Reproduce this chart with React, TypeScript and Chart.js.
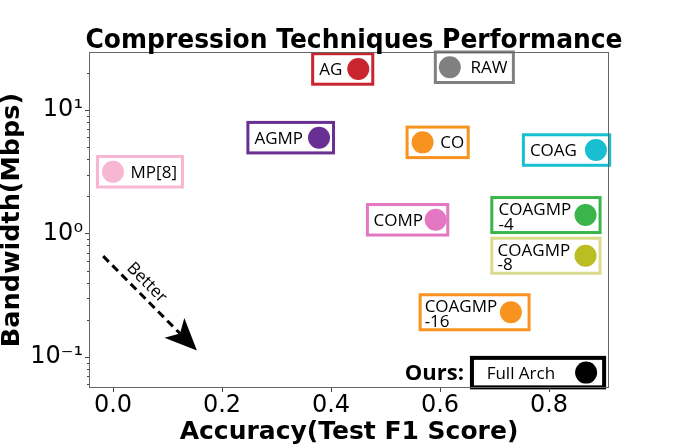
import { useEffect, useRef } from "react";
import { Chart, registerables } from "chart.js";
Chart.register(...registerables);

// ---------- data ----------
const techniques = ["AG", "RAW", "AGMP", "CO", "COAG", "MP[8]", "COMP", "COAGMP-4", "COAGMP-8", "COAGMP-16", "Full Arch"];
const labelLines = [["AG"], ["RAW"], ["AGMP"], ["CO"], ["COAG"], ["MP[8]"], ["COMP"], ["COAGMP", "-4"], ["COAGMP", "-8"], ["COAGMP", "-16"], ["Full Arch"]];
const accuracy = [0.45, 0.618, 0.378, 0.568, 0.886, 0.0, 0.592, 0.867, 0.867, 0.73, 0.868];
const bandwidth = [21.5, 22.2, 5.97, 5.47, 4.74, 3.16, 1.29, 1.41, 0.66, 0.23, 0.0746];
const markerColors = ["#c9252f", "#808080", "#6a2f93", "#f7931e", "#17bfd0", "#f7b6d2", "#e377c2", "#39b54a", "#bcbd22", "#f7931e", "#000000"];
const boxColors = ["#c9252f", "#808080", "#6a2f93", "#f7931e", "#17bfd0", "#f7b6d2", "#e377c2", "#39b54a", "#dbdb8d", "#f7931e", "#000000"];
const labelSide = ["left", "right", "left", "right", "left", "right", "left", "left", "left", "left", "left"];
const oursIndex = 10;
const oursText = "Ours:";

const xTickValues = [0, 0.2, 0.4, 0.6, 0.8];
const xTickLabels = ["0.0", "0.2", "0.4", "0.6", "0.8"];
const yTickValues = [0.1, 1, 10];
const yTickLabels = ["10\u207B\u00B9", "10\u2070", "10\u00B9"];

const titleText = "Compression Techniques Performance";
const xTitle = "Accuracy(Test F1 Score)";
const yTitle = "Bandwidth(Mbps)";

const arrowStart = { x: -0.018, y: 0.655 };
const arrowEnd = { x: 0.154, y: 0.1125 };
const arrowText = "Better";
const arrowTextPos = { x: 0.0618, y: 0.399 };

// ---------- style ----------
const W = 677;
const H = 448;
const R = 11;
const LABEL_FONT = '17px "Open Sans"';
// padText: box edge to text, gap: text to marker, padCircle: marker to box edge
const labelStyles = [
  { padText: 8, gap: 5, padCircle: 5, lw: 3 },
  { padText: 7.4, gap: 9.7, padCircle: 5, lw: 3 },
  { padText: 8, gap: 5, padCircle: 5, lw: 3 },
  { padText: 5.5, gap: 6.7, padCircle: 6, lw: 3 },
  { padText: 8, gap: 8, padCircle: 4.3, lw: 3 },
  { padText: 7, gap: 6.6, padCircle: 6, lw: 3 },
  { padText: 7.6, gap: 1.7, padCircle: 2.6, lw: 3 },
  { padText: 8.3, gap: 3.4, padCircle: 5, lw: 3 },
  { padText: 7.3, gap: 4.4, padCircle: 5, lw: 3 },
  { padText: 6, gap: 2.7, padCircle: 8.7, lw: 3 },
  { padText: 16.7, gap: 20, padCircle: 9, lw: 4 },
];

const frameAndTicks = {
  id: "frameAndTicks",
  afterDraw(chart: any) {
    const { ctx, chartArea: a, scales } = chart;
    ctx.save();
    ctx.strokeStyle = "#666";
    ctx.lineWidth = 1;
    ctx.strokeRect(a.left + 0.5, a.top + 0.5, a.right - a.left - 1, a.bottom - a.top - 1);
    ctx.strokeStyle = "#444";
    ctx.beginPath();
    xTickValues.forEach((v) => {
      const px = Math.round(scales.x.getPixelForValue(v)) + 0.5;
      ctx.moveTo(px, a.bottom);
      ctx.lineTo(px, a.bottom + 4);
    });
    const ymin = scales.y.min, ymax = scales.y.max;
    for (let e = -3; e <= 3; e++) {
      for (let m = 1; m <= 9; m++) {
        const v = m * Math.pow(10, e);
        if (v < ymin || v > ymax) continue;
        const py = Math.round(scales.y.getPixelForValue(v)) + 0.5;
        const len = m === 1 ? 4 : 2;
        ctx.moveTo(a.left - len, py);
        ctx.lineTo(a.left, py);
      }
    }
    ctx.stroke();
    ctx.restore();
  },
};

const titlePlugin = {
  id: "customTitle",
  afterDraw(chart: any) {
    const { ctx } = chart;
    ctx.save();
    ctx.font = 'bold 25px "DejaVu Sans"';
    ctx.fillStyle = "#000";
    ctx.textAlign = "center";
    ctx.textBaseline = "alphabetic";
    ctx.translate(354, 48);
    ctx.scale(1, 1.08);
    ctx.fillText(titleText, 0, 0);
    ctx.restore();
  },
};

const labelPlugin = {
  id: "pointLabels",
  beforeDatasetsDraw(chart: any) {
    const { ctx } = chart;
    const meta = chart.getDatasetMeta(0);
    ctx.save();
    meta.data.forEach((el: any, i: number) => {
      const cx = el.x;
      const cy = el.y;
      const st = labelStyles[i];
      const lines = labelLines[i];
      ctx.font = LABEL_FONT;
      const w = Math.max(...lines.map((l) => ctx.measureText(l).width));
      let left: number, right: number, textX: number;
      if (labelSide[i] === "left") {
        right = cx + R + st.padCircle;
        textX = cx - R - st.gap - w;
        left = textX - st.padText;
      } else {
        left = cx - R - st.padCircle;
        textX = cx + R + st.gap;
        right = textX + w + st.padText;
      }
      const h = lines.length > 1 ? 38 : 33.5;
      const top = cy - h / 2;
      const lw = st.lw;
      ctx.fillStyle = "#fff";
      ctx.fillRect(left, top, right - left, h);
      ctx.strokeStyle = boxColors[i];
      ctx.lineWidth = lw;
      ctx.strokeRect(left + lw / 2, top + lw / 2, right - left - lw, h - lw);
      ctx.fillStyle = "#000";
      ctx.textAlign = "left";
      ctx.textBaseline = "alphabetic";
      if (lines.length === 1) {
        ctx.fillText(lines[0], textX, cy + 6);
      } else {
        lines.forEach((l, k) => ctx.fillText(l, textX, cy + k * 14.5));
      }
      if (i === oursIndex) {
        ctx.font = 'bold 22px "Open Sans"';
        ctx.textAlign = "right";
        ctx.fillText(oursText, left - 6, cy + 7);
      }
    });
    ctx.restore();
  },
};

const arrowPlugin = {
  id: "betterArrow",
  afterDraw(chart: any) {
    const { ctx, scales } = chart;
    const x0 = scales.x.getPixelForValue(arrowStart.x);
    const y0 = scales.y.getPixelForValue(arrowStart.y);
    const x1 = scales.x.getPixelForValue(arrowEnd.x);
    const y1 = scales.y.getPixelForValue(arrowEnd.y);
    const dx = x1 - x0, dy = y1 - y0;
    const len = Math.hypot(dx, dy);
    const ux = dx / len, uy = dy / len;
    const nx = -uy, ny = ux;
    const headL = 32, headW = 14, notch = 24;
    const bx = x1 - ux * headL, by = y1 - uy * headL;
    const kx = x1 - ux * notch, ky = y1 - uy * notch;
    ctx.save();
    ctx.strokeStyle = "#000";
    ctx.lineWidth = 3;
    ctx.setLineDash([8, 5]);
    ctx.beginPath();
    ctx.moveTo(x0, y0);
    ctx.lineTo(kx, ky);
    ctx.stroke();
    ctx.setLineDash([]);
    ctx.fillStyle = "#000";
    ctx.beginPath();
    ctx.moveTo(x1, y1);
    ctx.lineTo(bx + nx * headW, by + ny * headW);
    ctx.lineTo(kx, ky);
    ctx.lineTo(bx - nx * headW, by - ny * headW);
    ctx.closePath();
    ctx.fill();
    const tx = scales.x.getPixelForValue(arrowTextPos.x);
    const ty = scales.y.getPixelForValue(arrowTextPos.y);
    ctx.translate(tx, ty);
    ctx.rotate(Math.atan2(dy, dx));
    ctx.font = '17px "Open Sans"';
    ctx.textAlign = "center";
    ctx.textBaseline = "middle";
    ctx.fillText(arrowText, 0, 0);
    ctx.restore();
  },
};

export default function App() {
  const ref = useRef<HTMLCanvasElement | null>(null);
  useEffect(() => {
    if (!ref.current) return;
    const chart = new Chart(ref.current, {
      type: "scatter",
      data: {
        labels: techniques,
        datasets: [
          {
            label: "techniques",
            data: accuracy.map((x, i) => ({ x, y: bandwidth[i] })),
            pointBackgroundColor: markerColors,
            pointBorderWidth: 0,
            pointRadius: R,
            pointHoverRadius: R,
          },
        ],
      },
      options: {
        responsive: false,
        animation: false,
        devicePixelRatio: 1,
        layout: { padding: { top: 52, right: 68, left: 0, bottom: 0 } },
        plugins: { legend: { display: false }, tooltip: { enabled: false }, title: { display: false } },
        scales: {
          x: {
            type: "linear",
            min: -0.044,
            max: 0.91,
            grid: { display: false, drawTicks: false },
            border: { display: false },
            afterBuildTicks: (s: any) => {
              s.ticks = xTickValues.map((v) => ({ value: v }));
            },
            afterFit: (s: any) => {
              s.height = 60;
            },
            ticks: {
              autoSkip: false,
              maxRotation: 0,
              padding: 3,
              color: "#000",
              font: { family: "DejaVu Sans", size: 24 },
              callback: (_v: any, i: number) => xTickLabels[i],
            },
            title: {
              display: true,
              text: xTitle,
              color: "#000",
              padding: { top: 0, bottom: 3 },
              font: { family: "DejaVu Sans", size: 25, weight: "bold", lineHeight: 1 },
            },
          },
          y: {
            type: "logarithmic",
            min: 0.056,
            max: 29.5,
            bounds: "data",
            grid: { display: false, drawTicks: false },
            border: { display: false },
            afterBuildTicks: (s: any) => {
              s.ticks = yTickValues.map((v) => ({ value: v }));
            },
            afterFit: (s: any) => {
              s.width = 89;
            },
            ticks: {
              autoSkip: false,
              padding: 6,
              color: "#000",
              font: { family: "DejaVu Sans", size: 24 },
              callback: (_v: any, i: number) => yTickLabels[i],
            },
            title: {
              display: true,
              text: yTitle,
              color: "#000",
              padding: 0,
              font: { family: "DejaVu Sans", size: 25.5, weight: "bold", lineHeight: 1 },
            },
          },
        },
      } as any,
      plugins: [labelPlugin, frameAndTicks, titlePlugin, arrowPlugin],
    });
    return () => chart.destroy();
  }, []);
  return (
    <div style={{ position: "absolute", left: 0, top: 0, width: W, height: H, background: "#fff" }}>
      <canvas ref={ref} width={W} height={H} style={{ display: "block" }} />
    </div>
  );
}
